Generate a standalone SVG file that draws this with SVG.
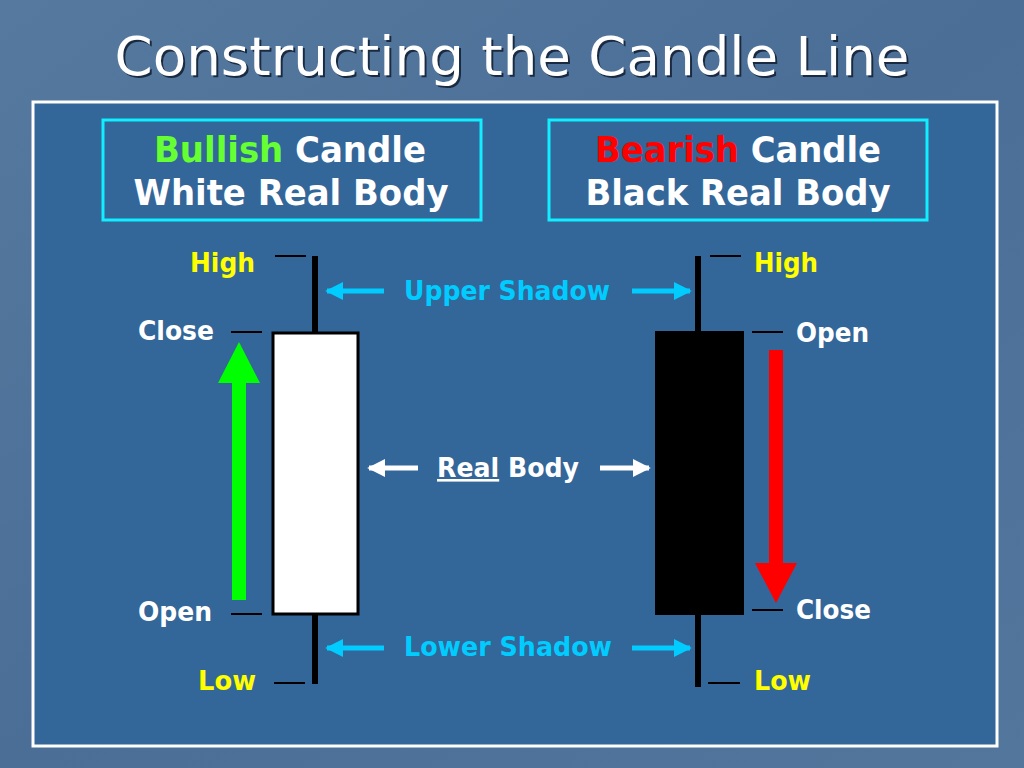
<svg xmlns="http://www.w3.org/2000/svg" width="1024" height="768" viewBox="0 0 1024 768">
<defs>
<linearGradient id="bg" x1="0" y1="0" x2="1" y2="1">
<stop offset="0" stop-color="#56799f"/>
<stop offset="0.5" stop-color="#4a6e96"/>
<stop offset="1" stop-color="#52769c"/>
</linearGradient>
<marker id="hc" viewBox="0 0 10 10" refX="9" refY="5" markerWidth="3.6" markerHeight="3.6" orient="auto" markerUnits="strokeWidth">
<path d="M0,0 L10,5 L0,10 Z" fill="#00ccff"/>
</marker>
<marker id="hw" viewBox="0 0 10 10" refX="9" refY="5" markerWidth="3.6" markerHeight="3.6" orient="auto" markerUnits="strokeWidth">
<path d="M0,0 L10,5 L0,10 Z" fill="#ffffff"/>
</marker>
<style>
.t{font-family:"DejaVu Sans Condensed","DejaVu Sans",sans-serif;font-weight:bold;}
.hd{font-size:35px;fill:#ffffff;}
.lb{font-size:26px;}
.w{fill:#ffffff;}
.y{fill:#ffff00;}
.c{fill:#00ccff;}
.tick{stroke:#000000;stroke-width:2;}
.wick{stroke:#000000;stroke-width:6;}
.ca{stroke:#00ccff;stroke-width:5;fill:none;marker-end:url(#hc);}
.wa{stroke:#ffffff;stroke-width:5;fill:none;marker-end:url(#hw);}
.box{fill:none;stroke:#11eeff;stroke-width:3;}
</style>
</defs>
<rect x="0" y="0" width="1024" height="768" fill="url(#bg)"/>
<rect x="33" y="102" width="964" height="644" fill="#336699" stroke="#ffffff" stroke-width="3"/>
<g id="title">
<text x="514" y="77" text-anchor="middle" font-family="'DejaVu Sans Condensed','DejaVu Sans',sans-serif" font-size="53" fill="#1a2a40" textLength="795" lengthAdjust="spacingAndGlyphs">Constructing the Candle Line</text>
<text x="512" y="75" text-anchor="middle" font-family="'DejaVu Sans Condensed','DejaVu Sans',sans-serif" font-size="53" fill="#ffffff" textLength="795" lengthAdjust="spacingAndGlyphs">Constructing the Candle Line</text>
</g>
<g id="bullish-box">
<rect class="box" x="103" y="120" width="378" height="100"/>
<text class="t hd" x="290" y="162" text-anchor="middle" textLength="272" lengthAdjust="spacingAndGlyphs"><tspan fill="#66ff33">Bullish</tspan> Candle</text>
<text class="t hd" x="291" y="205" text-anchor="middle" textLength="315" lengthAdjust="spacingAndGlyphs">White Real Body</text>
</g>
<g id="bearish-box">
<rect class="box" x="549" y="120" width="378" height="100"/>
<text class="t hd" x="738" y="162" text-anchor="middle" textLength="286" lengthAdjust="spacingAndGlyphs"><tspan fill="#ff0000">Bearish</tspan> Candle</text>
<text class="t hd" x="738" y="205" text-anchor="middle" textLength="305" lengthAdjust="spacingAndGlyphs">Black Real Body</text>
</g>
<g id="bullish-candle">
<line class="wick" x1="315" y1="256" x2="315" y2="333"/>
<line class="wick" x1="315" y1="613" x2="315" y2="684"/>
<rect x="273" y="333" width="85" height="281" fill="#ffffff" stroke="#000000" stroke-width="3"/>
<line class="tick" x1="275" y1="256" x2="306" y2="256"/>
<line class="tick" x1="231" y1="332" x2="262" y2="332"/>
<line class="tick" x1="231" y1="614" x2="262" y2="614"/>
<line class="tick" x1="274" y1="683" x2="305" y2="683"/>
<text class="t lb y" x="190" y="272" textLength="65" lengthAdjust="spacingAndGlyphs">High</text>
<text class="t lb w" x="138" y="340" textLength="76" lengthAdjust="spacingAndGlyphs">Close</text>
<text class="t lb w" x="138" y="621" textLength="74" lengthAdjust="spacingAndGlyphs">Open</text>
<text class="t lb y" x="198" y="690" textLength="58" lengthAdjust="spacingAndGlyphs">Low</text>
<path d="M232,600 L246,600 L246,383 L260,383 L239,342 L218,383 L232,383 Z" fill="#00ff00"/>
</g>
<g id="bearish-candle">
<line class="wick" x1="698" y1="256" x2="698" y2="333"/>
<line class="wick" x1="698" y1="613" x2="698" y2="687"/>
<rect x="655" y="331" width="89" height="284" fill="#000000"/>
<line class="tick" x1="710" y1="256" x2="741" y2="256"/>
<line class="tick" x1="752" y1="332" x2="783" y2="332"/>
<line class="tick" x1="752" y1="610" x2="783" y2="610"/>
<line class="tick" x1="708" y1="683" x2="740" y2="683"/>
<text class="t lb y" x="754" y="272" textLength="64" lengthAdjust="spacingAndGlyphs">High</text>
<text class="t lb w" x="796" y="342" textLength="73" lengthAdjust="spacingAndGlyphs">Open</text>
<text class="t lb w" x="796" y="619" textLength="75" lengthAdjust="spacingAndGlyphs">Close</text>
<text class="t lb y" x="754" y="690" textLength="57" lengthAdjust="spacingAndGlyphs">Low</text>
<path d="M769,350 L783,350 L783,563 L797,563 L776,603 L755,563 L769,563 Z" fill="#ff0000"/>
</g>
<g id="upper-shadow">
<text class="t lb c" x="507" y="300" text-anchor="middle" textLength="206" lengthAdjust="spacingAndGlyphs">Upper Shadow</text>
</g>
<g id="real-body">
<text class="t lb w" x="437" y="477" textLength="142" lengthAdjust="spacingAndGlyphs"><tspan text-decoration="underline">Real</tspan> Body</text>
</g>
<g id="lower-shadow">
<text class="t lb c" x="508" y="656" text-anchor="middle" textLength="208" lengthAdjust="spacingAndGlyphs">Lower Shadow</text>
</g>
<g id="connectors">
<line class="ca" x1="384" y1="291" x2="327" y2="291"/>
<line class="ca" x1="632" y1="291" x2="690" y2="291"/>
<line class="wa" x1="418" y1="468" x2="369" y2="468"/>
<line class="wa" x1="600" y1="468" x2="649" y2="468"/>
<line class="ca" x1="384" y1="648" x2="327" y2="648"/>
<line class="ca" x1="632" y1="648" x2="690" y2="648"/>
</g>
</svg>
